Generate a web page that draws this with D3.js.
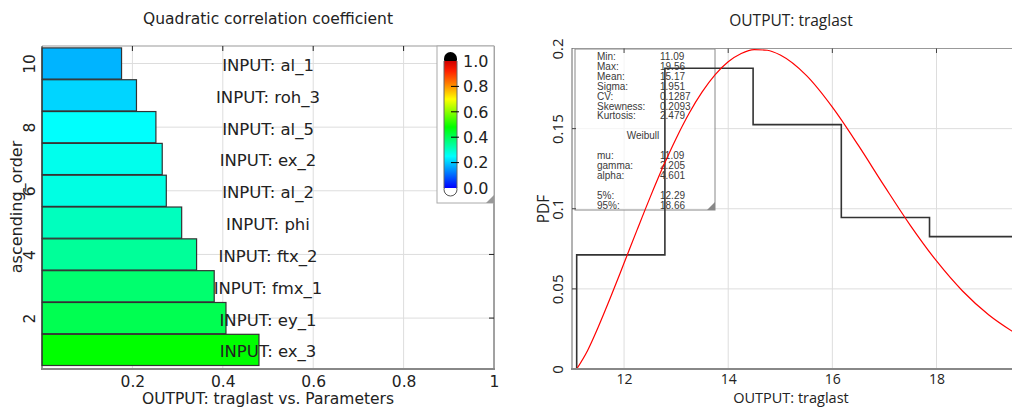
<html>
<head>
<script src="https://cdnjs.cloudflare.com/ajax/libs/d3/7.8.5/d3.min.js"></script>
<style>
  body { margin: 0; background: #fff; }
  svg { display: block; }
  .lft text { font-family: "DejaVu Sans", Verdana, sans-serif; fill: #222; }
  .rgt text { font-family: "Open Sans", "Noto Sans", sans-serif; fill: #222; }
  .grid line { stroke: #ddd; stroke-width: 1; }
  .stat text { font-family: "Liberation Sans", Arial, sans-serif; font-size: 10px; fill: #3a3a3a; }
</style>
</head>
<body>
<svg id="chart" width="1012" height="407"></svg>
<script>
// ---- left chart data (ascending order 1..10)
var corrNames = ["ex_3", "ey_1", "fmx_1", "ftx_2", "phi", "al_2", "ex_2", "al_5", "roh_3", "al_1"];
var corrValues = [0.480, 0.407, 0.381, 0.342, 0.309, 0.275, 0.266, 0.252, 0.209, 0.176];
var corrTicks = [0.2, 0.4, 0.6, 0.8, 1];
var orderTicks = [2, 4, 6, 8, 10];
var legendTicks = [0, 0.2, 0.4, 0.6, 0.8, 1.0];

// ---- right chart data
var binEdges = [11.09, 12.784, 14.478, 16.172, 17.866, 19.56];
var binPdf = [0.0712, 0.1877, 0.1525, 0.0945, 0.0826];
var fitX = [11.09, 11.3, 11.5, 11.75, 12, 12.25, 12.5, 12.75, 13, 13.25, 13.5, 13.75, 14, 14.25, 14.5, 14.75, 15, 15.5, 16, 16.5, 17, 17.5, 18, 18.5, 19, 19.5];
var fitPdf = [0, 0.0116, 0.0259, 0.0455, 0.0661, 0.0868, 0.1071, 0.1263, 0.1439, 0.1596, 0.1729, 0.1837, 0.1917, 0.1969, 0.1993, 0.1989, 0.1959, 0.1832, 0.1634, 0.1395, 0.1141, 0.0895, 0.0674, 0.0487, 0.0339, 0.0226];
var pdfTicksX = [12, 14, 16, 18];
var pdfTicksY = [0, 0.05, 0.1, 0.15, 0.2];
var statLabels = ["Min:", "Max:", "Mean:", "Sigma:", "CV:", "Skewness:", "Kurtosis:"];
var statValues = ["11.09", "19.56", "15.17", "1.951", "0.1287", "0.2093", "2.479"];
var fitLabels = ["mu:", "gamma:", "alpha:"];
var fitValues = ["11.09", "2.205", "4.601"];
var quantLabels = ["5%:", "95%:"];
var quantValues = ["12.29", "18.66"];

var svg = d3.select("#chart");
var defs = svg.append("defs");

// colour map used for bars and the legend
var colour = d3.scaleLinear()
    .domain([0, 0.1, 0.25, 0.48, 0.7, 0.82, 0.92, 1])
    .range(["#0000ff", "#0066ff", "#00ffff", "#00ff00", "#ffff00", "#ff8000", "#ff2000", "#d00000"]);

// ================= LEFT CHART =================
var L = svg.append("g").attr("class", "lft");
var x = d3.scaleLinear().domain([0, 1]).range([42, 494]);
var y = d3.scaleLinear().domain([0.4, 10.55]).range([369, 46]);

var gridL = L.append("g").attr("class", "grid");
gridL.selectAll(".gx").data(corrTicks.slice(0, 4)).enter().append("line")
    .attr("x1", d => x(d)).attr("x2", d => x(d)).attr("y1", 46).attr("y2", 369);
gridL.selectAll(".gy").data(orderTicks).enter().append("line")
    .attr("x1", 42).attr("x2", 494).attr("y1", d => y(d)).attr("y2", d => y(d));

L.selectAll("rect.bar").data(corrValues).enter().append("rect")
    .attr("class", "bar")
    .attr("x", x(0))
    .attr("y", (d, i) => y(i + 1.49))
    .attr("width", d => x(d) - x(0))
    .attr("height", y(0.51) - y(1.49))
    .style("fill", d => colour(d))
    .style("stroke", "#333")
    .style("stroke-width", 1.2);

// frame
L.append("line").attr("x1", 42).attr("x2", 494).attr("y1", 46).attr("y2", 46).style("stroke", "#999");
L.append("line").attr("x1", 494).attr("x2", 494).attr("y1", 46).attr("y2", 369).style("stroke", "#444");
L.append("line").attr("x1", 42).attr("x2", 42).attr("y1", 46).attr("y2", 369).style("stroke", "#333");
L.append("line").attr("x1", 41).attr("x2", 495).attr("y1", 369).attr("y2", 369).style("stroke", "#888").style("stroke-width", 2);

// mirror ticks
L.selectAll(".tt").data(corrTicks.slice(0, 4)).enter().append("line")
    .attr("x1", d => x(d)).attr("x2", d => x(d)).attr("y1", 46).attr("y2", 51).style("stroke", "#222");
L.selectAll(".tr").data(orderTicks).enter().append("line")
    .attr("x1", 489).attr("x2", 494).attr("y1", d => y(d)).attr("y2", d => y(d)).style("stroke", "#222");

// bar labels
L.selectAll("text.lbl").data(corrNames).enter().append("text")
    .attr("class", "lbl")
    .attr("x", 268)
    .attr("y", (d, i) => y(i + 1))
    .attr("dy", "0.45em")
    .attr("text-anchor", "middle")
    .style("font-size", "16.5px")
    .text(d => "INPUT: " + d);

// axes
var ax = L.append("g").attr("transform", "translate(0,369)")
    .call(d3.axisBottom(x).tickValues(corrTicks).tickSize(0).tickPadding(7).tickFormat(d3.format("")));
ax.select(".domain").remove();
ax.selectAll("text").style("font-size", "15.5px");

var ay = L.append("g").attr("transform", "translate(42,0)")
    .call(d3.axisLeft(y).tickValues(orderTicks).tickSize(0));
ay.select(".domain").remove();
ay.selectAll("text")
    .attr("transform", "rotate(-90)")
    .attr("x", 0).attr("y", -7).attr("dy", 0)
    .attr("text-anchor", "middle")
    .style("font-size", "15.5px");

L.append("text").attr("x", 268).attr("y", 23.5).attr("text-anchor", "middle")
    .style("font-size", "15.5px").text("Quadratic correlation coefficient");
L.append("text").attr("x", 268).attr("y", 404).attr("text-anchor", "middle")
    .style("font-size", "15.5px").text("OUTPUT: traglast vs. Parameters");
L.append("text").attr("transform", "translate(22,207) rotate(-90)").attr("text-anchor", "middle")
    .style("font-size", "16px").text("ascending_order");

// colour legend
var ly = d3.scaleLinear().domain([0, 1]).range([188, 61]);
L.append("rect").attr("x", 437).attr("y", 46).attr("width", 57).attr("height", 157)
    .style("fill", "#fff").style("stroke", "#aaa");
L.append("path").attr("d", "M486,203 L494,195 L494,203 Z").style("fill", "#999");
var grad = defs.append("linearGradient").attr("id", "cb")
    .attr("gradientUnits", "userSpaceOnUse")
    .attr("x1", 0).attr("x2", 0).attr("y1", ly(1)).attr("y2", ly(0));
grad.selectAll("stop").data(colour.domain().slice().reverse()).enter().append("stop")
    .attr("offset", d => 1 - d)
    .attr("stop-color", d => colour(d));
// caps
L.append("rect").attr("x", 444).attr("y", 52).attr("width", 13).attr("height", 14).attr("rx", 6.5)
    .style("fill", "#000");
L.append("rect").attr("x", 444).attr("y", 183).attr("width", 13).attr("height", 13).attr("rx", 6.5)
    .style("fill", "#fff").style("stroke", "#555");
L.append("rect").attr("x", 444).attr("y", ly(1)).attr("width", 13).attr("height", ly(0) - ly(1))
    .style("fill", "url(#cb)");
L.append("path").attr("d", "M444," + ly(1) + " L444," + ly(0) + " M457," + ly(1) + " L457," + ly(0))
    .style("stroke", "#666");
L.selectAll(".lt").data(legendTicks.slice(1, 5)).enter().append("line")
    .attr("x1", 451).attr("x2", 459).attr("y1", d => ly(d)).attr("y2", d => ly(d)).style("stroke", "#000");
L.selectAll(".ltx").data(legendTicks).enter().append("text")
    .attr("x", 463).attr("y", d => ly(d)).attr("dy", "0.36em")
    .style("font-size", "16px").text(d => d3.format(".1f")(d));

// ================= RIGHT CHART =================
var R = svg.append("g").attr("class", "rgt");
var px = d3.scaleLinear().domain([11.0, 19.45]).range([572, 1012]);
var py = d3.scaleLinear().domain([0, 0.2]).range([369, 48.5]);

defs.append("clipPath").attr("id", "clipR")
    .append("rect").attr("x", 572).attr("y", 40).attr("width", 440).attr("height", 330);

var gridR = R.append("g").attr("class", "grid");
gridR.selectAll(".gx").data(pdfTicksX).enter().append("line")
    .attr("x1", d => px(d)).attr("x2", d => px(d)).attr("y1", 48.5).attr("y2", 369);
gridR.selectAll(".gy").data(pdfTicksY.slice(1, 4)).enter().append("line")
    .attr("x1", 572).attr("x2", 1012).attr("y1", d => py(d)).attr("y2", d => py(d));

// stats box (semi-transparent)
var sb = R.append("g").attr("class", "stat");
sb.append("rect").attr("x", 575).attr("y", 49).attr("width", 140).attr("height", 161)
    .style("fill", "#fff").style("fill-opacity", 0.7).style("stroke", "#888");
sb.append("path").attr("d", "M707,210 L715,202 L715,210 Z").style("fill", "#888");
var rowY = r => 60 + r * 9.9;
function rows(labels, values, start) {
    labels.forEach(function(l, i) {
        sb.append("text").attr("x", 597).attr("y", rowY(start + i)).text(l);
        sb.append("text").attr("x", 660).attr("y", rowY(start + i)).text(values[i]);
    });
}
rows(statLabels, statValues, 0);
sb.append("text").attr("x", 643).attr("y", rowY(8)).attr("text-anchor", "middle").text("Weibull");
rows(fitLabels, fitValues, 10);
rows(quantLabels, quantValues, 14);

// histogram steps
var stepPts = binEdges.map((e, i) => [e, i < binPdf.length ? binPdf[i] : binPdf[binPdf.length - 1]]);
stepPts.unshift([binEdges[0], 0]);
var plotG = R.append("g").attr("clip-path", "url(#clipR)");
plotG.append("path")
    .datum(stepPts)
    .attr("d", d3.line().x(d => px(d[0])).y(d => py(d[1])).curve(d3.curveStepAfter))
    .style("fill", "none").style("stroke", "#333").style("stroke-width", 1.6);
plotG.append("path")
    .datum(fitX.map((d, i) => [d, fitPdf[i]]))
    .attr("d", d3.line().x(d => px(d[0])).y(d => py(d[1])).curve(d3.curveMonotoneX))
    .style("fill", "none").style("stroke", "#f00").style("stroke-width", 1.2);

// frame
R.append("line").attr("x1", 572).attr("x2", 1012).attr("y1", 48.5).attr("y2", 48.5).style("stroke", "#999");
R.append("line").attr("x1", 572).attr("x2", 572).attr("y1", 48).attr("y2", 369).style("stroke", "#666");
R.append("line").attr("x1", 571).attr("x2", 1012).attr("y1", 369).attr("y2", 369).style("stroke", "#888").style("stroke-width", 2);
R.selectAll(".tt").data(pdfTicksX).enter().append("line")
    .attr("x1", d => px(d)).attr("x2", d => px(d)).attr("y1", 48.5).attr("y2", 53).style("stroke", "#444");
R.selectAll(".tl").data(pdfTicksY.slice(1, 4)).enter().append("line")
    .attr("x1", 572).attr("x2", 576).attr("y1", d => py(d)).attr("y2", d => py(d)).style("stroke", "#444");

var rax = R.append("g").attr("transform", "translate(0,369)")
    .call(d3.axisBottom(px).tickValues(pdfTicksX).tickSize(0).tickPadding(5));
rax.select(".domain").remove();
rax.selectAll("text").style("font-size", "14px");

var ray = R.append("g").attr("transform", "translate(572,0)")
    .call(d3.axisLeft(py).tickValues(pdfTicksY).tickSize(0).tickFormat(d3.format("")));
ray.select(".domain").remove();
ray.selectAll("text")
    .attr("transform", "rotate(-90)")
    .attr("x", 0).attr("y", -9).attr("dy", 0)
    .attr("text-anchor", "middle")
    .style("font-size", "15px");

R.append("text").attr("x", 791).attr("y", 26).attr("text-anchor", "middle")
    .style("font-size", "15.5px").text("OUTPUT: traglast");
R.append("text").attr("x", 791).attr("y", 402.5).attr("text-anchor", "middle")
    .style("font-size", "14.5px").text("OUTPUT: traglast");
R.append("text").attr("transform", "translate(549,209) rotate(-90)").attr("text-anchor", "middle")
    .style("font-size", "15.5px").text("PDF");
</script>
</body>
</html>
